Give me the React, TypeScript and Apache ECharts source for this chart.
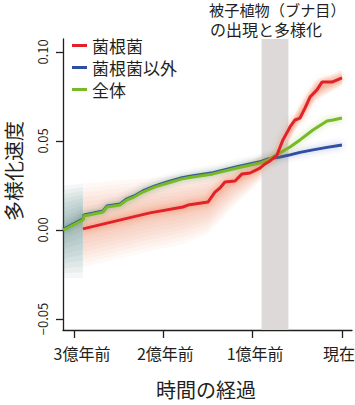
import React, { useEffect, useRef } from 'react';
import * as echarts from 'echarts';

const FONT = '"Noto Sans CJK JP", "Noto Sans", sans-serif';
const INK = '#231f20';

// time in million years (negative = past)
const xTickValues = [-300, -200, -100, 0];
const xTickLabels = ['3億年前', '2億年前', '1億年前', '現在'];
const yTickValues = [-0.05, 0, 0.05, 0.1];
const yTickLabels = ['−0.05', '0.00', '0.05', '0.10'];

const seriesNames = ['菌根菌', '菌根菌以外', '全体'];

const redT = [-290, -215, -178, -172.4, -150, -142.2, -136.6, -131, -119.7, -111.9, -103, -91.8, -86.2, -80.6, -72.8, -66.1, -58.2, -52.6, -47, -41.4, -35.8, -28, -22.4, -11.2, 0];
const redV = [0.0006, 0.0096, 0.0129, 0.014, 0.0157, 0.0213, 0.0236, 0.027, 0.0275, 0.0315, 0.032, 0.0348, 0.0371, 0.0388, 0.0421, 0.0506, 0.0579, 0.0618, 0.0629, 0.0685, 0.0747, 0.0787, 0.0831, 0.0831, 0.0854];

const blueT = [-312, -290, -288.8, -267.5, -263, -248.5, -240.7, -232.8, -223, -209.3, -194.8, -179.1, -166.8, -144.4, -117.5, -91.8, -82.8, -69.4, -58.2, -47, -32.5, -16.8, 0];
const blueV = [0.0003, 0.0061, 0.0085, 0.0107, 0.0135, 0.0146, 0.0175, 0.0191, 0.0219, 0.0248, 0.0271, 0.0294, 0.0305, 0.0322, 0.0355, 0.0383, 0.0399, 0.041, 0.0422, 0.0436, 0.045, 0.0464, 0.0478];

const greenT = [-312, -290, -288.8, -267.5, -263, -248.5, -240.7, -232.8, -223, -209.3, -194.8, -179.1, -166.8, -144.4, -117.5, -91.8, -82.8, -69.4, -58.2, -47, -32.5, -16.8, -10.1, 0];
const greenV = [0.0, 0.0056, 0.0079, 0.0101, 0.0129, 0.014, 0.0169, 0.0185, 0.0213, 0.0242, 0.0264, 0.0287, 0.0298, 0.0315, 0.0348, 0.0376, 0.0393, 0.0433, 0.0466, 0.0506, 0.0562, 0.0612, 0.0618, 0.0629];

// uncertainty haze (菌根菌)
const redHazeT = [-290, -250, -215, -178, -150, -120, -100, -85, -70, -50, -30, 0];
const redHazeMid = [0.0006, 0.005, 0.0096, 0.0129, 0.0157, 0.0275, 0.033, 0.038, 0.044, 0.063, 0.078, 0.0854];
const redHazeHi = [0.026, 0.028, 0.029, 0.031, 0.033, 0.036, 0.04, 0.044, 0.049, 0.068, 0.084, 0.09];
const redHazeLo = [-0.021, -0.016, -0.012, -0.008, -0.002, 0.014, 0.023, 0.031, 0.039, 0.058, 0.072, 0.081];

// uncertainty haze (early, shared)
const tealHazeT = [-312, -290];
const tealHazeMid = [0.0, 0.006];
const tealHazeHi = [0.025, 0.026];
const tealHazeLo = [-0.027, -0.027];

const bandStart = -90;
const bandEnd = -60;

const X_MIN = -312.3;
const X_MAX = 11.2;
const Y_MIN = -0.0562;
const Y_MAX = 0.1073;

const zip = (t: number[], v: number[]) => t.map((x, i) => [x, v[i]]);

const LAYERS = [1, 0.9, 0.8, 0.7, 0.6, 0.5, 0.4, 0.3, 0.2, 0.1];

function hazeSeries(t: number[], mid: number[], hi: number[], lo: number[], color: string, alpha: number) {
  return {
    type: 'custom',
    silent: true,
    z: 1,
    clip: true,
    data: [[t[0], mid[0]]],
    renderItem: (_p: any, api: any) => {
      const children = LAYERS.map((f) => {
        const pts: number[][] = [];
        for (let i = 0; i < t.length; i++) pts.push(api.coord([t[i], mid[i] + f * (hi[i] - mid[i])]));
        for (let i = t.length - 1; i >= 0; i--) pts.push(api.coord([t[i], mid[i] + f * (lo[i] - mid[i])]));
        return { type: 'polygon', shape: { points: pts }, style: { fill: color, opacity: alpha } };
      });
      return { type: 'group', children };
    },
  };
}

const xRich: any = {
  l0: { fontSize: 16, fontFamily: FONT, color: INK, padding: [0, 0, 0, 16] },
  l1: { fontSize: 16, fontFamily: FONT, color: INK, padding: [0, 0, 0, 4] },
  l2: { fontSize: 16, fontFamily: FONT, color: INK, padding: [0, 0, 0, 5] },
  l3: { fontSize: 16, fontFamily: FONT, color: INK, padding: [0, 6, 0, 0] },
};

function lineSeries(name: string, data: number[][], color: string, glow: string, z: number) {
  return {
    name,
    type: 'line',
    data,
    z,
    symbol: 'none',
    showSymbol: false,
    silent: true,
    color,
    itemStyle: { color },
    lineStyle: { color, width: 3, shadowBlur: 6, shadowColor: glow },
  };
}

export default function App() {
  const ref = useRef<HTMLDivElement>(null);
  useEffect(() => {
    const chart = echarts.init(ref.current!, null, { renderer: 'svg' });
    const option: any = {
      animation: false,
      grid: { left: 63, right: 3, top: 39, bottom: 75, containLabel: false, outerBoundsMode: 'none' },
      legend: {
        data: seriesNames,
        orient: 'vertical',
        left: 72,
        top: 37,
        padding: 0,
        itemGap: 5,
        itemWidth: 15,
        itemHeight: 3,
        icon: 'rect',
        selectedMode: false,
        textStyle: { fontSize: 17, lineHeight: 17, color: INK, fontFamily: FONT },
      },
      xAxis: {
        type: 'value',
        min: X_MIN,
        max: X_MAX,
        splitLine: { show: false },
        axisLine: { show: true, onZero: false, lineStyle: { color: INK, width: 1.3 } },
        axisTick: { show: true, customValues: xTickValues, length: 8, lineStyle: { color: INK, width: 1.3 } },
        axisLabel: {
          customValues: xTickValues,
          margin: 15,
          fontSize: 16,
          fontFamily: FONT,
          color: INK,
          formatter: (v: number) => {
            const i = xTickValues.indexOf(v);
            return i >= 0 ? `{l${i}|${xTickLabels[i]}}` : '';
          },
          rich: xRich,
        },
      },
      yAxis: {
        type: 'value',
        min: Y_MIN,
        max: Y_MAX,
        splitLine: { show: false },
        axisLine: { show: true, onZero: false, lineStyle: { color: INK, width: 1.3 } },
        axisTick: { show: true, customValues: yTickValues, length: 7, lineStyle: { color: INK, width: 1.3 } },
        axisLabel: {
          customValues: yTickValues,
          rotate: 90,
          margin: 14,
          fontSize: 13,
          fontFamily: FONT,
          color: INK,
          formatter: (v: number) => {
            const i = yTickValues.findIndex((t) => Math.abs(t - v) < 1e-9);
            return i >= 0 ? yTickLabels[i] : '';
          },
        },
      },
      graphic: [
        {
          type: 'text',
          x: 209,
          y: 9,
          silent: true,
          style: {
            text: '被子植物（ブナ目）',
            font: `15.2px ${FONT}`,
            lineHeight: 16,
            fill: INK,
            textVerticalAlign: 'middle',
          },
        },
        {
          type: 'text',
          x: 210,
          y: 29,
          silent: true,
          style: {
            text: 'の出現と多様化',
            font: `16px ${FONT}`,
            lineHeight: 16,
            fill: INK,
            textVerticalAlign: 'middle',
          },
        },
        {
          type: 'text',
          x: 13,
          y: 171,
          rotation: Math.PI / 2,
          silent: true,
          style: {
            text: '多様化速度',
            font: `20px ${FONT}`,
            fill: INK,
            textAlign: 'center',
            textVerticalAlign: 'middle',
          },
        },
        {
          type: 'text',
          x: 206,
          y: 389,
          silent: true,
          style: {
            text: '時間の経過',
            font: `20px ${FONT}`,
            fill: INK,
            textAlign: 'center',
            textVerticalAlign: 'middle',
          },
        },
      ],
      series: [
        hazeSeries(redHazeT, redHazeMid, redHazeHi, redHazeLo, '#e8682e', 0.04),
        hazeSeries(tealHazeT, tealHazeMid, tealHazeHi, tealHazeLo, '#3f7b70', 0.06),
        {
          type: 'custom',
          silent: true,
          z: 2,
          data: [[bandStart, bandEnd]],
          encode: { x: [0, 1] },
          renderItem: (_p: any, api: any) => {
            const a = api.coord([api.value(0), Y_MAX]);
            const b = api.coord([api.value(1), Y_MIN]);
            return {
              type: 'rect',
              shape: { x: a[0], y: a[1], width: b[0] - a[0], height: b[1] - a[1] },
              style: { fill: '#dcd9d8' },
            };
          },
        },
        lineSeries(seriesNames[1], zip(blueT, blueV), '#2d4ea3', 'rgba(60,80,170,0.45)', 3),
        lineSeries(seriesNames[2], zip(greenT, greenV), '#78b928', 'rgba(120,185,40,0.45)', 4),
        lineSeries(seriesNames[0], zip(redT, redV), '#e2202a', 'rgba(240,90,40,0.6)', 5),
      ],
    };
    chart.setOption(option);
    return () => chart.dispose();
  }, []);
  return <div ref={ref} style={{ position: 'absolute', left: 0, top: 0, width: 355, height: 405 }} />;
}
